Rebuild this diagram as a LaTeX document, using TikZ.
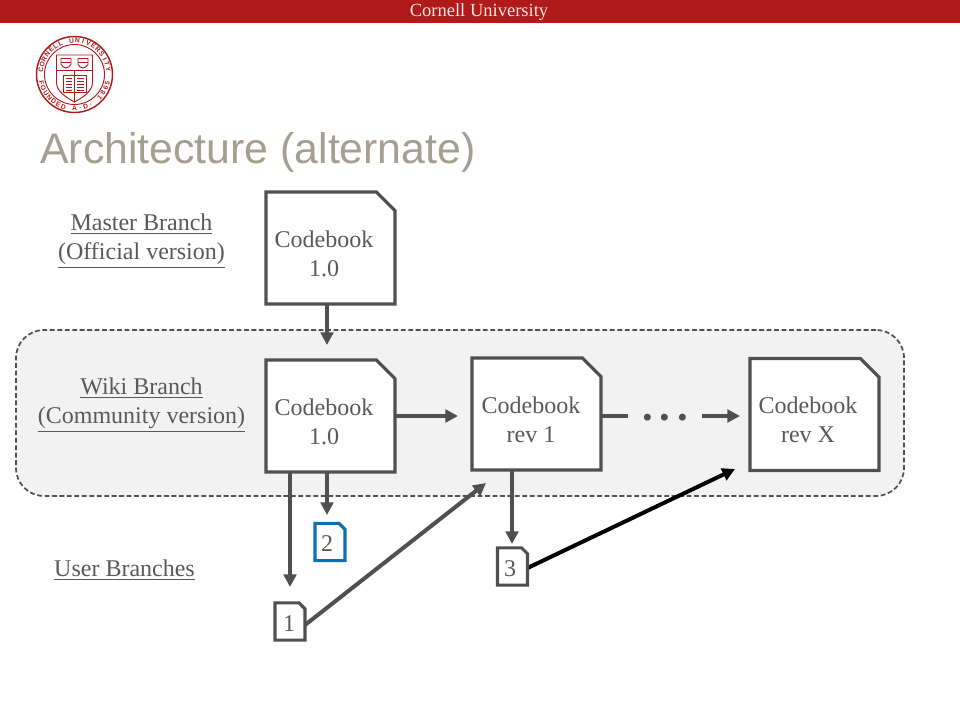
\documentclass[tikz,border=0pt]{standalone}
\usepackage{fontspec}
\setmainfont{Liberation Serif}
\newfontfamily\titlesans{Liberation Sans}
\usetikzlibrary{arrows.meta}
\definecolor{cornellred}{HTML}{B01A1A}
\definecolor{inkgray}{HTML}{505050}
\definecolor{textgray}{HTML}{595959}
\definecolor{titlegray}{HTML}{A59F92}
\definecolor{panelgray}{HTML}{F2F2F2}
\definecolor{docblue}{HTML}{0F6FB3}
\definecolor{bannertext}{HTML}{F8E6DF}
\newcommand{\docoutline}[3][inkgray]{%
  \draw[draw=#1,fill=white,line width=2.3pt,line join=miter]
    (#2.north west) -- ([xshift=-#3]#2.north east) -- ([yshift=-#3]#2.north east)
    -- (#2.south east) -- (#2.south west) -- cycle;}
\tikzset{
  docbig/.style={rectangle,minimum width=96.75pt,minimum height=84pt,inner sep=0pt,outer sep=0pt},
  docsmall/.style={rectangle,minimum width=22.5pt,minimum height=28pt,inner sep=0pt,outer sep=0pt},
  doctext/.style={text=textgray,font=\fontsize{18}{21.75}\selectfont,align=center,inner sep=0pt},
  branchlabel/.style={text=textgray,font=\fontsize{18}{21.75}\selectfont,align=center,inner sep=0pt},
  flow/.style={draw=inkgray,line width=3pt,-{Triangle[length=9.5pt,width=9.5pt]}},
  flowblack/.style={draw=black,line width=3pt,-{Triangle[length=9.5pt,width=9.5pt]}},
  stub/.style={draw=inkgray,line width=3pt},
  sealline/.style={draw=cornellred,line width=0.7pt},
  sealletter/.style={inner sep=0pt,text=cornellred,font=\titlesans\bfseries\fontsize{5}{5}\selectfont},
}
\begin{document}
\begin{tikzpicture}[x=0.75pt,y=-0.75pt]
\useasboundingbox (0,0) rectangle (960,720);
% banner
\fill[cornellred] (0,0) rectangle (960,23);
\node[inner sep=0pt,text=bannertext,font=\fontsize{13.9}{16}\selectfont] (banner) at (479,12.5) {Cornell University};
% seal
\begin{scope}[shift={(74.5,74.5)},x=0.75pt,y=0.75pt]
  \draw[sealline,line width=1.1pt] (0,0) circle (38);
  \draw[sealline] (0,0) circle (30);
  \foreach \ch [count=\i] in {C,O,R,N,E,L,L,{},U,N,I,V,E,R,S,I,T,Y}{
    \pgfmathsetmacro{\ang}{172-(\i-1)*164/17}
    \node[sealletter,rotate=\ang-90] (sealtop\i) at (\ang:34) {\ch};
  }
  \foreach \ch [count=\i] in {F,O,U,N,D,E,D,{},A,.,D,.,{},1,8,6,5}{
    \pgfmathsetmacro{\ang}{194+(\i-1)*152/16}
    \node[sealletter,rotate=\ang+90] (sealbot\i) at (\ang:34) {\ch};
  }
  \draw[sealline,fill=white] (-18,19.5) -- (18,19.5) -- (18,-8)
     .. controls (18,-17) and (8,-23) .. (0,-27.5)
     .. controls (-8,-23) and (-18,-17) .. (-18,-8) -- cycle;
  \draw[sealline] (-18,4.5) -- (18,4.5);
  \draw[sealline] (0,4.5) -- (0,-27.5);
  \foreach \sx in {-8.5,8.5}{
    \draw[sealline] (\sx-5,16) -- (\sx+5,16) -- (\sx+5,10) .. controls (\sx+4,8) and (\sx+2,7) .. (\sx,6.5)
       .. controls (\sx-2,7) and (\sx-4,8) .. (\sx-5,10) -- cycle;
    \draw[sealline] (\sx-5,12.5) -- (\sx+5,12.5);
  }
  \draw[sealline,fill=white] (-11.5,-1) rectangle (11.5,-17.5);
  \draw[sealline] (0,-1) -- (0,-17.5);
  \foreach \ly in {-4,-7,-10,-13,-15.5}{
    \draw[cornellred,line width=0.5pt] (-9,\ly) -- (-2.5,\ly);
    \draw[cornellred,line width=0.5pt] (2.5,\ly) -- (9,\ly);
  }
\end{scope}
% title
\node[anchor=base west,inner sep=0pt,text=titlegray,font=\titlesans\fontsize{32.1}{38}\selectfont] (title) at (40,164) {Architecture (alternate)};
% wiki panel
\node[draw=inkgray,fill=panelgray,dash pattern=on 3.6pt off 2pt,line width=1.3pt,rounded corners=21pt,
  minimum width=666pt,minimum height=124.5pt,inner sep=0pt,outer sep=0pt] (panel) at (460,413) {};
% free connector ends
\coordinate (a1) at (327,345);
\coordinate (a2) at (458,416);
\coordinate (a3) at (628,416);
\coordinate (a4) at (702,416);
\coordinate (a5) at (740,416);
\coordinate (e1) at (290,587);
\coordinate (e2) at (327,515);
\coordinate (e3) at (512,544);
\coordinate (e4) at (486,483);
\coordinate (e5) at (735,469);
% documents
\node[docbig] (master) at (330.5,248) {};
\node[docbig] (wiki) at (330.5,416) {};
\node[docbig] (revone) at (536.5,414) {};
\node[docbig] (revx) at (814.5,414.5) {};
\node[docsmall] (one) at (290,621.5) {};
\node[docsmall] (two) at (330,542) {};
\node[docsmall] (three) at (512.5,566.5) {};
% connectors
\draw[flow] (master.south -| a1) -- (a1);
\draw[flow] (wiki.east |- a2) -- (a2);
\draw[stub] (revone.east |- a3) -- (a3);
\node[inner sep=0pt,text=inkgray,font=\bfseries\fontsize{32}{36}\selectfont] (dots) at (665,418) {.\hspace{5.1pt}.\hspace{5.1pt}.};
\draw[flow] (a4) -- (a5);
\draw[flow] (wiki.south -| e1) -- (e1);
\draw[flow] (wiki.south -| e2) -- (e2);
\draw[flow] (revone.south -| e3) -- (e3);
\draw[flow] (one.east |- 0,625) -- (e4);
\draw[flowblack] (three.east |- 0,568) -- (e5);
% document outlines
\docoutline{master}{14pt}
\docoutline{wiki}{14pt}
\docoutline{revone}{14pt}
\docoutline{revx}{14pt}
\docoutline{one}{4.5pt}
\docoutline[docblue]{two}{4.5pt}
\docoutline{three}{4.5pt}
% document texts
\node[doctext] (mastertext) at (324,254) {Codebook\\1.0};
\node[doctext] (wikitext) at (324,422) {Codebook\\1.0};
\node[doctext] (revonetext) at (531,420) {Codebook\\rev 1};
\node[doctext] (revxtext) at (808,420) {Codebook\\rev X};
\node[doctext] (onetext) at (289,624) {1};
\node[doctext] (twotext) at (327,543.5) {2};
\node[doctext] (threetext) at (510,568.5) {3};
% labels
\node[branchlabel] (masterlabel) at (141.5,241) {\underline{Master Branch}\\\underline{(Official version)}};
\node[branchlabel] (wikilabel) at (141.5,405) {\underline{Wiki Branch}\\\underline{(Community version)}};
\node[branchlabel] (userlabel) at (124.5,570) {\underline{User Branches}};
\end{tikzpicture}
\end{document}
